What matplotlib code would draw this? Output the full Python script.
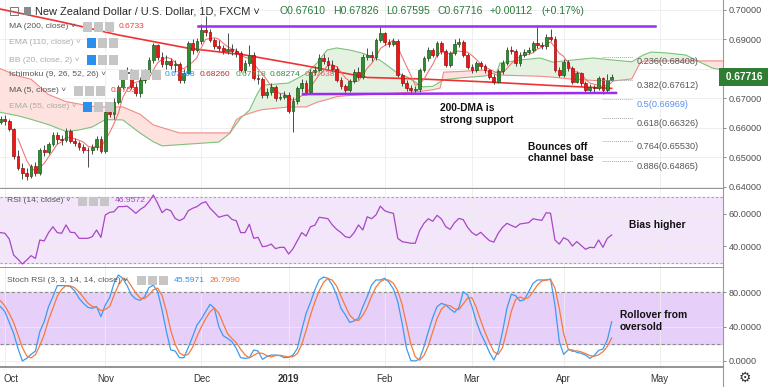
import numpy as np
import pandas as pd
import matplotlib
matplotlib.use("Agg")
import matplotlib.pyplot as plt
import matplotlib.transforms as mtransforms
from matplotlib.patches import Rectangle
from matplotlib.lines import Line2D

plt.rcParams['font.family'] = ['Liberation Sans', 'DejaVu Sans']

# ---------------- data (NZD/USD daily, FXCM) ----------------
# bar 0 = 1 Oct 2018, first value = 28 Sep 2018
opens = [
    0.6620,
    0.6628, 0.6622, 0.6595, 0.6503, 0.6464, 0.6445, 0.6436, 0.6470, 0.6445, 0.6524,
    0.6518, 0.6545, 0.6575, 0.6560, 0.6558, 0.6590, 0.6555, 0.6548, 0.6535, 0.6525,
    0.6523, 0.6535, 0.6562, 0.6520, 0.6654, 0.6645, 0.6687, 0.6739, 0.6784, 0.6790,
    0.6739, 0.6716, 0.6761, 0.6790, 0.6829, 0.6880, 0.6840, 0.6815, 0.6825, 0.6812,
    0.6815, 0.6761, 0.6785, 0.6886, 0.6863, 0.6892, 0.6931, 0.6925, 0.6897, 0.6877,
    0.6870, 0.6860, 0.6868, 0.6858, 0.6852, 0.6795, 0.6818, 0.6846, 0.6767, 0.6765,
    0.6710, 0.6722, 0.6738, 0.6699, 0.6705, 0.6712, 0.6655, 0.6690, 0.6733, 0.6752,
    0.6722, 0.6790, 0.6795, 0.6835, 0.6825, 0.6812, 0.6800, 0.6762, 0.6740, 0.6728,
    0.6757, 0.6790, 0.6773, 0.6840, 0.6845, 0.6838, 0.6897, 0.6919, 0.6890, 0.6885,
    0.6895, 0.6778, 0.6750, 0.6733, 0.6728, 0.6730, 0.6795, 0.6835, 0.6863, 0.6846,
    0.6886, 0.6858, 0.6812, 0.6852, 0.6885, 0.6890, 0.6846, 0.6806, 0.6795, 0.6818,
    0.6810, 0.6795, 0.6773, 0.6756, 0.6791, 0.6818, 0.6863, 0.6858, 0.6818, 0.6846,
    0.6857, 0.6862, 0.6886, 0.6880, 0.6875, 0.6908, 0.6902, 0.6795, 0.6779, 0.6823,
    0.6801, 0.6756, 0.6784, 0.6750, 0.6727, 0.6739, 0.6733, 0.6767, 0.6727, 0.67610,
]
highs = [
    0.6640,
    0.6642, 0.6628, 0.6600, 0.6525, 0.6480, 0.6462, 0.6478, 0.6482, 0.6530, 0.6540,
    0.6552, 0.6586, 0.6585, 0.6575, 0.6598, 0.6595, 0.6566, 0.6556, 0.6545, 0.6535,
    0.6545, 0.6570, 0.6570, 0.6660, 0.6670, 0.6700, 0.6745, 0.6795, 0.6805, 0.6798,
    0.6750, 0.6770, 0.6800, 0.6840, 0.6888, 0.6885, 0.6855, 0.6845, 0.6835, 0.6830,
    0.6822, 0.6800, 0.6895, 0.6900, 0.6905, 0.6950, 0.6977, 0.6935, 0.6905, 0.6898,
    0.6880, 0.6920, 0.6885, 0.6870, 0.6860, 0.6830, 0.6880, 0.6855, 0.6780, 0.6772,
    0.6735, 0.6750, 0.6745, 0.6718, 0.6725, 0.6720, 0.6705, 0.6742, 0.6765, 0.6760,
    0.6800, 0.6808, 0.6848, 0.6850, 0.6838, 0.6830, 0.6810, 0.6770, 0.6748, 0.6765,
    0.6800, 0.6805, 0.6850, 0.6870, 0.6858, 0.6905, 0.6942, 0.6925, 0.6900, 0.6905,
    0.6900, 0.6785, 0.6760, 0.6745, 0.6742, 0.6802, 0.6842, 0.6872, 0.6870, 0.6895,
    0.6892, 0.6865, 0.6860, 0.6900, 0.6905, 0.6898, 0.6852, 0.6815, 0.6826, 0.6825,
    0.6815, 0.6800, 0.6782, 0.6798, 0.6828, 0.6872, 0.6875, 0.6865, 0.6855, 0.6866,
    0.6872, 0.6895, 0.6942, 0.6890, 0.6918, 0.6935, 0.6910, 0.6805, 0.6832, 0.6830,
    0.6808, 0.6792, 0.6790, 0.6758, 0.6748, 0.6745, 0.6775, 0.6772, 0.6783, 0.67826,
]
lows = [
    0.6612,
    0.6610, 0.6588, 0.6495, 0.6455, 0.6426, 0.6424, 0.6430, 0.6436, 0.6440, 0.6505,
    0.6510, 0.6538, 0.6545, 0.6540, 0.6550, 0.6548, 0.6538, 0.6525, 0.6515, 0.6468,
    0.6510, 0.6525, 0.6515, 0.6515, 0.6635, 0.6630, 0.6680, 0.6730, 0.6770, 0.6730,
    0.6708, 0.6705, 0.6750, 0.6780, 0.6820, 0.6830, 0.6805, 0.6800, 0.6800, 0.6790,
    0.6752, 0.6750, 0.6780, 0.6850, 0.6855, 0.6885, 0.6912, 0.6890, 0.6865, 0.6860,
    0.6848, 0.6848, 0.6845, 0.6838, 0.6788, 0.6785, 0.6810, 0.6760, 0.6748, 0.6700,
    0.6702, 0.6712, 0.6690, 0.6692, 0.6698, 0.6648, 0.6586, 0.6680, 0.6722, 0.6712,
    0.6715, 0.6778, 0.6790, 0.6815, 0.6800, 0.6790, 0.6755, 0.6730, 0.6718, 0.6720,
    0.6750, 0.6765, 0.6765, 0.6830, 0.6825, 0.6830, 0.6890, 0.6880, 0.6872, 0.6875,
    0.6770, 0.6742, 0.6725, 0.6718, 0.6718, 0.6722, 0.6788, 0.6825, 0.6838, 0.6840,
    0.6850, 0.6805, 0.6805, 0.6845, 0.6872, 0.6840, 0.6798, 0.6785, 0.6788, 0.6800,
    0.6785, 0.6765, 0.6748, 0.6750, 0.6782, 0.6812, 0.6848, 0.6810, 0.6808, 0.6838,
    0.6848, 0.6855, 0.6870, 0.6865, 0.6868, 0.6895, 0.6788, 0.6770, 0.6772, 0.6792,
    0.6748, 0.6750, 0.6742, 0.6718, 0.6718, 0.6722, 0.6728, 0.6715, 0.6722, 0.67595,
]
closes = [
    0.6628,
    0.6622, 0.6595, 0.6503, 0.6464, 0.6445, 0.6436, 0.6470, 0.6445, 0.6524, 0.6518,
    0.6545, 0.6575, 0.6560, 0.6558, 0.6590, 0.6555, 0.6548, 0.6535, 0.6525, 0.6523,
    0.6535, 0.6562, 0.6520, 0.6654, 0.6645, 0.6687, 0.6739, 0.6784, 0.6790, 0.6739,
    0.6716, 0.6761, 0.6790, 0.6829, 0.6880, 0.6840, 0.6815, 0.6825, 0.6812, 0.6815,
    0.6761, 0.6785, 0.6886, 0.6863, 0.6892, 0.6931, 0.6925, 0.6897, 0.6877, 0.6870,
    0.6860, 0.6868, 0.6858, 0.6852, 0.6795, 0.6818, 0.6846, 0.6767, 0.6765, 0.6710,
    0.6722, 0.6738, 0.6699, 0.6705, 0.6712, 0.6655, 0.6690, 0.6733, 0.6752, 0.6722,
    0.6790, 0.6795, 0.6835, 0.6825, 0.6812, 0.6800, 0.6762, 0.6740, 0.6728, 0.6757,
    0.6790, 0.6773, 0.6840, 0.6845, 0.6838, 0.6897, 0.6919, 0.6890, 0.6885, 0.6895,
    0.6778, 0.6750, 0.6733, 0.6728, 0.6730, 0.6795, 0.6835, 0.6863, 0.6846, 0.6886,
    0.6858, 0.6812, 0.6852, 0.6885, 0.6890, 0.6846, 0.6806, 0.6795, 0.6818, 0.6810,
    0.6795, 0.6773, 0.6756, 0.6791, 0.6818, 0.6863, 0.6858, 0.6818, 0.6846, 0.6857,
    0.6862, 0.6886, 0.6880, 0.6875, 0.6908, 0.6902, 0.6795, 0.6779, 0.6823, 0.6801,
    0.6756, 0.6784, 0.6750, 0.6727, 0.6739, 0.6733, 0.6767, 0.6727, 0.6761, 0.67716,
]

rsi = [
    48.4,
    48.0, 44.5, 34.7, 32.1, 29.2, 31.6, 34.3, 32.6, 43.9, 43.3,
    48.4, 52.0, 48.4, 48.0, 53.1, 48.6, 48.4, 44.9, 44.9, 44.9,
    45.9, 50.0, 45.5, 59.2, 60.8, 61.2, 64.3, 64.3, 64.6, 62.5,
    60.2, 62.6, 64.3, 67.3, 71.4, 66.3, 60.6, 62.8, 61.8, 57.1,
    55.7, 57.1, 61.8, 63.3, 64.3, 66.3, 67.3, 63.3, 60.6, 57.8,
    58.6, 59.2, 56.5, 55.7, 48.4, 48.4, 53.5, 44.9, 45.5, 39.8,
    40.2, 41.4, 38.6, 39.4, 39.4, 35.3, 38.6, 43.5, 48.4, 46.3,
    52.0, 52.9, 57.8, 57.4, 56.9, 53.1, 50.4, 48.4, 45.9, 45.3,
    48.4, 53.1, 50.0, 58.1, 56.9, 59.2, 64.6, 61.8, 60.8, 60.2,
    44.9, 42.9, 42.4, 41.9, 41.9, 49.6, 54.1, 56.9, 55.3, 59.0,
    56.7, 52.0, 50.4, 54.5, 57.1, 56.3, 51.6, 48.4, 46.7, 48.6,
    45.9, 43.5, 42.6, 48.0, 51.6, 54.1, 52.8, 51.6, 53.7, 54.1,
    54.5, 56.9, 56.3, 55.9, 60.6, 60.2, 43.9, 41.4, 45.3, 43.9,
    40.2, 42.9, 40.6, 38.2, 39.4, 39.2, 43.9, 39.4, 44.9, 46.96,
]
stoch_k = [
    63.2,
    57.3, 44.9, 32.1, 14.7, 0.0, 3.1, 7.7, 11.6, 34.1, 45.7,
    63.2, 74.8, 87.6, 87.6, 87.6, 86.4, 81.4, 72.8, 67.0, 62.4,
    61.2, 63.2, 51.5, 65.1, 73.6, 90.3, 100.0, 96.1, 87.6, 76.7,
    72.1, 70.5, 74.8, 85.2, 88.3, 80.6, 59.3, 34.1, 12.8, 11.6,
    3.8, 3.8, 15.5, 28.3, 41.8, 48.8, 57.3, 65.9, 61.2, 39.9,
    29.4, 26.3, 22.5, 14.7, 3.8, 3.1, 3.8, 12.8, 11.6, 1.9,
    5.0, 6.9, 6.9, 6.2, 3.8, 4.2, 6.9, 14.7, 36.0, 55.4,
    68.2, 82.5, 94.2, 97.6, 96.1, 88.3, 76.7, 61.2, 53.5, 44.9,
    46.5, 49.6, 63.2, 74.8, 88.3, 94.2, 94.2, 96.1, 91.4, 83.7,
    69.0, 43.8, 14.7, 0.4, 0.0, 2.3, 16.6, 34.1, 50.4, 63.2,
    67.0, 65.1, 60.4, 56.6, 62.0, 80.6, 76.7, 63.2, 45.7, 32.1,
    21.7, 10.0, 1.1, 11.6, 34.1, 61.2, 77.5, 75.9, 69.7, 71.3,
    80.6, 90.3, 94.2, 94.2, 94.2, 95.3, 65.1, 22.5, 7.7, 12.8,
    12.8, 10.0, 8.9, 6.9, 3.1, 6.2, 12.4, 13.9, 24.4, 45.6,
]
stoch_d = [
    70.0,
    64.0, 55.1, 44.8, 30.6, 15.6, 5.9, 3.6, 7.5, 17.8, 30.5,
    47.7, 61.2, 75.2, 83.3, 87.6, 87.2, 85.1, 80.2, 73.7, 67.4,
    63.5, 62.3, 58.6, 59.9, 63.4, 76.3, 88.0, 95.5, 94.6, 86.8,
    78.8, 73.1, 72.5, 76.8, 82.8, 84.7, 76.1, 58.0, 35.4, 19.5,
    9.4, 6.4, 7.7, 15.9, 28.5, 39.6, 49.3, 57.3, 61.5, 55.7,
    43.5, 31.9, 26.1, 21.2, 13.7, 7.2, 3.6, 6.6, 9.4, 8.8,
    6.2, 4.6, 6.3, 6.7, 5.6, 4.7, 5.0, 8.6, 19.2, 35.4,
    53.2, 68.7, 81.6, 91.4, 96.0, 94.0, 87.0, 75.4, 63.8, 53.2,
    48.3, 47.0, 53.1, 62.5, 75.4, 85.8, 92.2, 94.8, 93.9, 90.4,
    81.4, 65.5, 42.5, 19.6, 5.0, 0.9, 6.3, 17.7, 33.7, 49.2,
    60.2, 65.1, 64.2, 60.7, 59.7, 66.4, 73.1, 73.5, 61.9, 47.0,
    33.2, 21.3, 10.9, 7.6, 15.6, 35.6, 57.6, 71.5, 74.4, 72.3,
    73.9, 80.7, 88.4, 92.9, 94.2, 94.6, 84.9, 61.0, 31.8, 14.3,
    11.1, 11.9, 10.6, 8.6, 6.3, 5.4, 7.2, 10.8, 16.9, 26.8,
]

# 200-day MA read at a few bars
ma200_bar = [-1.12, 13, 26, 42, 55, 68, 83, 95, 110, 125, 139]
ma200_val = [0.7002, 0.6958, 0.6914, 0.6869, 0.6846, 0.6812, 0.6770, 0.6765, 0.6755, 0.6743, 0.6733]

# Ichimoku cloud (leading spans, already shifted 26 bars forward)
cloud_bar = [-1.12, 3, 6, 10, 14, 17, 20, 23, 27, 31, 34, 36, 40, 45, 49, 51.5, 53, 54, 55, 56,
             57.7, 59, 65, 69, 71.5, 73.8, 76, 79, 82, 86, 90, 92, 95.8, 98, 99.7, 100.5, 104,
             110, 112.7, 113.4, 118, 122.6, 125.5, 130, 134.7, 139.3, 143.6, 145.5, 146.5, 148,
             151.6, 156, 159.2, 162, 164.5]
span_a = [0.6652, 0.6640, 0.6628, 0.6610, 0.6587, 0.6592, 0.6602, 0.6627, 0.6626, 0.6581, 0.6552,
          0.6538, 0.6542, 0.6547, 0.6551, 0.6580, 0.6612, 0.6632, 0.6645, 0.6659, 0.6711, 0.6744,
          0.6751, 0.6783, 0.6819, 0.6863, 0.6870, 0.6863, 0.6852, 0.6828, 0.6784, 0.6773, 0.6738,
          0.6740, 0.6755, 0.6762, 0.6768, 0.6775, 0.6788, 0.6819, 0.6829, 0.6836, 0.6822, 0.6829,
          0.6836, 0.6829, 0.6823, 0.6840, 0.6848, 0.6856, 0.6853, 0.6846, 0.6822, 0.6802, 0.6795]
span_b = [0.6800, 0.6775, 0.6764, 0.6712, 0.6688, 0.6680, 0.6672, 0.6670, 0.6670, 0.6645, 0.6609,
          0.6600, 0.6582, 0.6582, 0.6582, 0.6582, 0.6626, 0.6636, 0.6643, 0.6648, 0.6656, 0.6661,
          0.6670, 0.6670, 0.6686, 0.6695, 0.6705, 0.6709, 0.6711, 0.6714, 0.6717, 0.6719, 0.6724,
          0.6728, 0.6734, 0.6788, 0.6790, 0.6795, 0.6778, 0.6778, 0.6776, 0.6774, 0.6771, 0.6764,
          0.6760, 0.6758, 0.6765, 0.6819, 0.6826, 0.6826, 0.6826, 0.6826, 0.6826, 0.6826, 0.6826]

# drawn channel
chan_top_bar, chan_top_val = [44.2, 148.9], [0.6944, 0.6944]
chan_bot_bar, chan_bot_val = [68.3, 140.0], [0.67135, 0.67175]

fib_levels = [0.68408, 0.67612, 0.66969, 0.66326, 0.65530, 0.64865]
fib_names = ['0.236', '0.382', '0.5', '0.618', '0.764', '0.886']

price_ticks = [0.64, 0.65, 0.66, 0.67, 0.68, 0.69, 0.70]

# ---------------- layout ----------------
W, H = 768, 387
days = pd.bdate_range('2018-09-28', '2019-05-31')
days = days[~days.isin(pd.to_datetime(['2018-12-25', '2019-01-01']))]
pos = np.arange(len(days)) - 1
n = len(closes)
xb = pos[:n]

month_pos, month_lab = [], []
for i in range(1, len(days)):
    if days[i].month != days[i - 1].month:
        month_pos.append(pos[i])
        month_lab.append(str(days[i].year) if days[i].month == 1 else days[i].strftime('%b'))

fig = plt.figure(figsize=(W / 100, H / 100), dpi=100)
fig.patch.set_facecolor('white')


def panel(top, bottom, **kw):
    return fig.add_axes([0, 1 - bottom / H, 723 / W, (bottom - top) / H], **kw)


ax = panel(0, 189)
ax_rsi = panel(189, 268, sharex=ax)
ax_st = panel(268, 367, sharex=ax)

grid_c = '#ececec'
for a in (ax, ax_rsi, ax_st):
    for s in ('top', 'left'):
        a.spines[s].set_visible(False)
    a.spines['right'].set_color('#9a9a9a')
    a.spines['right'].set_linewidth(0.8)
    a.spines['bottom'].set_color('#8a8a8a')
    a.spines['bottom'].set_linewidth(1.3)
    a.yaxis.tick_right()
    a.tick_params(axis='y', length=2.5, width=0.7, color='#8a8a8a', pad=1.5,
                  labelsize=6.6, labelcolor='#505050')
    a.set_xticks(month_pos)
    a.grid(True, color=grid_c, lw=0.6)
    a.set_axisbelow(True)
for a in (ax, ax_rsi):
    a.tick_params(axis='x', bottom=False, labelbottom=False)

# ---- price panel ----
o, h, l, c = map(np.array, (opens, highs, lows, closes))
ca, cb = np.array(span_a), np.array(span_b)
ax.fill_between(cloud_bar, ca, cb, where=ca >= cb, interpolate=True, color='#e5f2e2', lw=0, zorder=1)
ax.fill_between(cloud_bar, ca, cb, where=ca < cb, interpolate=True, color='#fde2df', lw=0, zorder=1)
ax.plot(cloud_bar, span_a, color='#7cc27b', lw=0.8, zorder=1.5)
ax.plot(cloud_bar, span_b, color='#f08c86', lw=0.8, zorder=1.5)

ax.plot(ma200_bar, ma200_val, color='#f23232', lw=1.2, zorder=2)
ax.plot(xb, pd.Series(closes).rolling(5).mean(), color='#f07070', lw=0.75, zorder=2.2)

up = c >= o
ax.vlines(xb, l, h, color='#4a4a4a', lw=0.7, zorder=3)
ax.bar(xb, np.maximum(np.abs(c - o), 0.00007), bottom=np.minimum(o, c), width=0.64,
       color=np.where(up, '#2f8c2f', '#f01616'), edgecolor=np.where(up, '#1c5a1c', '#a00e0e'),
       linewidth=0.5, zorder=4)

ax.plot(chan_top_bar, chan_top_val, color='#9d2cf2', lw=1.8, zorder=5)
ax.plot(chan_bot_bar, chan_bot_val, color='#9d2cf2', lw=1.8, zorder=5)

for lvl, name in zip(fib_levels, fib_names):
    col = '#5b8fee' if name == '0.5' else '#555555'
    ax.plot([136.8, 143.9], [lvl, lvl], color='#9fc0f4' if name == '0.5' else '#a8a8a8',
            lw=0.7, ls=(0, (1, 1)), zorder=5)
    ax.text(144.6, lvl - 0.0002, f'{name}({lvl:.5f})', va='top', ha='left',
            fontsize=6.6, color=col, zorder=6)

ax.set_xlim(-1.12, 164.5)
ax.set_ylim(0.63919, 0.70325)
ax.set_yticks(price_ticks)
# the 0.68000 label sits under the last-price tag
ax.set_yticklabels(['' if abs(v - 0.68) < 1e-9 else f'{v:.5f}' for v in price_ticks])
ax.text(1.0, closes[-1], ' 0.67716 ', transform=ax.get_yaxis_transform(), ha='left', va='center',
        fontsize=7.3, fontweight='bold', color='white', clip_on=False, zorder=20,
        bbox=dict(boxstyle='square,pad=0.35', fc='#2e7d32', ec='none'))

# ---- RSI panel ----
ax_rsi.axhspan(30, 70, color='#f3e6fb', zorder=0)
for v in (30, 70):
    ax_rsi.axhline(v, color='#aa9cb8', lw=0.8, ls=(0, (2, 2)), zorder=1)
ax_rsi.plot(xb, rsi, color='#a846c6', lw=0.9, zorder=3)
ax_rsi.set_ylim(26.76, 75.08)
ax_rsi.set_yticks([40, 60])
ax_rsi.set_yticklabels(['40.0000', '60.0000'])

# ---- Stoch RSI panel ----
ax_st.axhspan(20, 80, color='#e6cff8', zorder=0)
for v in (20, 80):
    ax_st.axhline(v, color='#8c8c8c', lw=0.8, ls=(0, (3, 2)), zorder=1)
ax_st.plot(xb, stoch_k, color='#3d9bf0', lw=0.9, zorder=3)
ax_st.plot(xb, stoch_d, color='#f57a3c', lw=0.9, zorder=3)
ax_st.set_ylim(-7.0, 108.1)
ax_st.set_yticks([0, 40, 80])
ax_st.set_yticklabels(['0.0000', '40.0000', '80.0000'])
ax_st.set_xticklabels(month_lab)
ax_st.tick_params(axis='x', length=0, pad=5, labelsize=6.9, labelcolor='#333333')
for t in ax_st.get_xticklabels():
    if t.get_text() == '2019':
        t.set_fontweight('bold')
first = ax_st.get_xticklabels()[0]
first.set_transform(first.get_transform() +
                    mtransforms.ScaledTranslation(4.5 / 72, 0, fig.dpi_scale_trans))

fig.add_artist(Line2D([723 / W, 723 / W], [0, 1 - 367 / H], color='#9a9a9a', lw=0.8))


# ---- header / legends (pixel placement) ----
def txt(px, py, s, **kw):
    kw.setdefault('va', 'center')
    return fig.text(px / W, 1 - py / H, s, **kw)


def icon(px, py, color='#c6c6c6'):
    fig.add_artist(Rectangle((px / W, 1 - (py + 4.5) / H), 9 / W, 9 / H,
                             transform=fig.transFigure, fc=color, ec='none', zorder=30))


fig.add_artist(Rectangle((10 / W, 1 - 15 / H), 8 / W, 8 / H, transform=fig.transFigure,
                         fc='none', ec='#777777', lw=0.7))
fig.add_artist(Rectangle((24 / W, 1 - 15 / H), 7 / W, 8 / H, transform=fig.transFigure,
                         fc='#8a8a8a', ec='none'))
txt(35, 11, 'New Zealand Dollar / U.S. Dollar, 1D, FXCM \u02c5', fontsize=7.9, color='#2b2b2b')
for px, s in [(279, 'O0.67610'), (333, 'H0.67826'), (386, 'L0.67595'),
              (437, 'C0.67716'), (490, '+0.00112'), (541, '(+0.17%)')]:
    txt(px, 11, s, fontsize=7.6, color='#2a7a3b')

shown, hidden = '#555555', '#ababab'
rows = [
    (27, 'MA (200, close) \u02c5', shown, [83, 94, 105], False),
    (43, 'EMA (110, close) \u02c5', hidden, [87, 98, 109], True),
    (60, 'BB (20, close, 2) \u02c5', hidden, [87, 98, 109], True),
    (75, 'Ichimoku (9, 26, 52, 26) \u02c5', shown, [119, 130, 141, 152], False),
    (91, 'MA (5, close) \u02c5', shown, [74, 85, 96], False),
    (107, 'EMA (55, close) \u02c5', hidden, [83, 94, 105], True),
]
for py, s, col, icons, off in rows:
    txt(9, py, s, fontsize=6.1, color=col)
    for k, px in enumerate(icons):
        icon(px, py, '#2b8ff0' if (off and k == 0) else '#c6c6c6')
txt(119, 27, '0.6733', fontsize=6.1, color='#f23c3c')
txt(111, 91, '0.6753', fontsize=6.1, color='#f23c3c')
for px, s, col in [(165, '0.67868', '#2196f3'), (200, '0.68260', '#b8302c'),
                   (236, '0.67718', '#43a047'), (270, '0.68274', '#2e8b3a'),
                   (305, '0.67638', '#e06060')]:
    txt(px, 75, s, fontsize=6.1, color=col)

txt(7, 201, 'RSI (14, close) \u02c5', fontsize=6.1, color=shown)
for px in (78, 89, 100):
    icon(px, 201)
txt(115, 201, '46.9572', fontsize=6.1, color='#a846c6')

txt(7, 280, 'Stoch RSI (3, 3, 14, 14, close) \u02c5', fontsize=6.1, color=shown)
for px in (137, 148, 159):
    icon(px, 280)
txt(174, 280, '45.5971', fontsize=6.1, color='#2f8fea')
txt(210, 280, '26.7990', fontsize=6.1, color='#f26a2a')

# ---- annotations ----
note = dict(fontsize=7.4, fontweight='bold', color='#111111')
txt(440, 108, '200-DMA is', **note)
txt(440, 120, 'strong support', **note)
txt(528, 147, 'Bounces off', **note)
txt(528, 158, 'channel base', **note)
txt(629, 225, 'Bias higher', **note)
txt(620, 315, 'Rollover from', **note)
txt(620, 327, 'oversold', **note)

txt(745, 378, '\u2699', fontsize=10, color='#333333', ha='center', family='DejaVu Sans')

fig.savefig('out.png', dpi=100)
